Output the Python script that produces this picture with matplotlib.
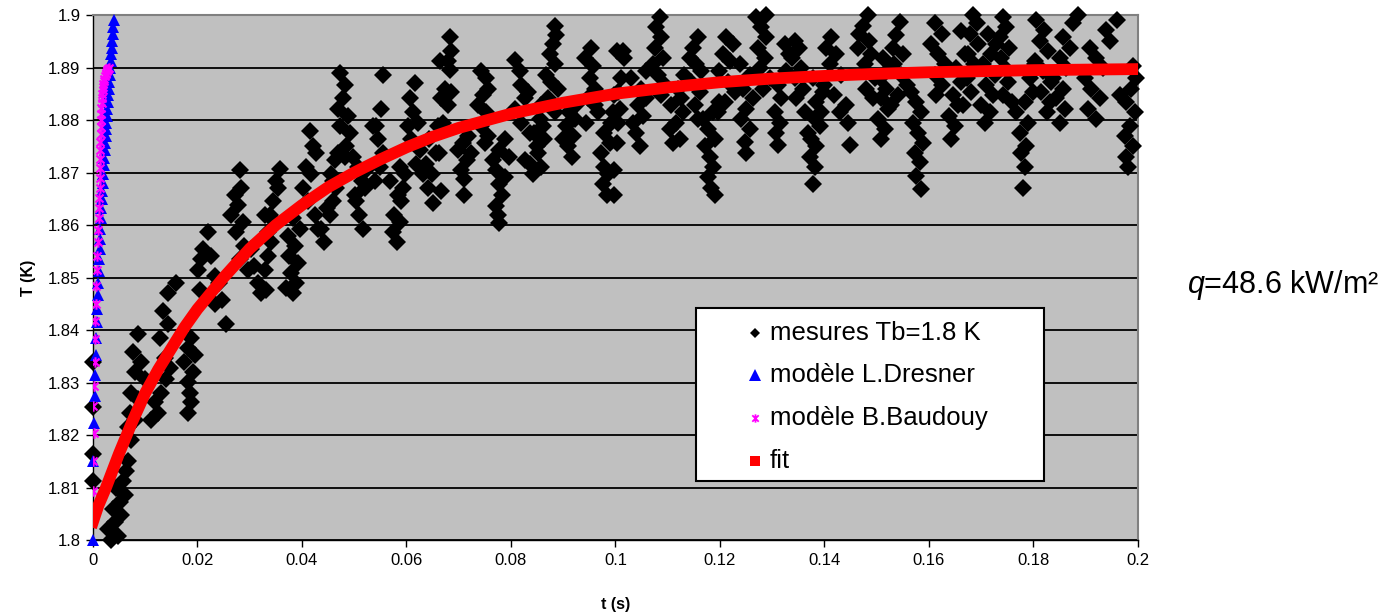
import numpy as np
import matplotlib
matplotlib.use('Agg')
import matplotlib.pyplot as plt
from matplotlib.path import Path
from matplotlib.patches import Rectangle
from matplotlib.ticker import FormatStrFormatter, MultipleLocator

plt.rcParams['font.family'] = ['Liberation Sans', 'DejaVu Sans']
plt.rcParams['mathtext.fontset'] = 'custom'
plt.rcParams['mathtext.it'] = 'Liberation Sans:italic'
plt.rcParams['mathtext.rm'] = 'Liberation Sans'

# mesures (t en ms, T en K)
meas_t_ms = [0.0, 0.0, 0.0, 0.0,
    3.5, 4.78, 2.87, 4.15, 5.42, 3.83, 5.1, 6.06, 4.47, 5.74, 6.38, 6.7,
    8.6, 7.66, 9.25, 7.97, 9.89, 7.34, 8.6, 7.02, 7.97, 6.7, 7.34,
    11.2, 12.4, 11.8, 13.1, 14.0, 14.7, 13.7, 12.8, 14.4, 13.4, 14.4, 15.9,
    18.2, 18.8, 18.5, 18.2, 19.1, 17.5, 19.5, 18.2, 18.8,
    20.1, 21.1, 22.0, 20.7, 23.3, 24.2, 22.6, 24.6, 25.5, 23.3, 20.4,
    28.1, 28.4, 27.1, 27.8, 26.5, 28.7, 27.4, 29.0, 28.1, 29.7,
    30.3, 30.9, 31.6, 32.2, 32.9, 33.5,
    33.2, 32.9, 33.5, 34.1, 34.8, 34.5, 35.4, 35.7, 35.1, 33.8,
    38.3, 37.0, 38.9, 37.9, 39.2, 37.6, 38.6, 37.3, 39.6, 38.3,
    41.5, 42.1, 42.7, 40.8, 41.8, 40.2, 41.2, 42.4, 43.1,
    44.3, 43.7, 45.3, 44.7, 45.9, 46.6, 45.6, 46.3, 46.9, 45.9,
    47.2, 48.2, 47.9, 46.9, 48.8, 47.2, 49.1, 48.5, 49.8, 48.2,
    51.7, 51.0, 50.4, 52.0, 51.4, 52.3, 50.7, 50.1,
    55.5, 55.2, 54.2, 53.6, 54.6, 55.5, 54.9, 53.9,
    58.1, 57.4, 58.7, 57.7, 59.0, 58.4, 56.8, 59.3, 59.7, 58.7,
    61.6, 60.6, 61.3, 60.3, 62.2, 60.9, 62.5, 61.9, 63.2,
    65.1, 64.1, 64.8, 63.8, 65.7, 64.4, 66.0, 66.7, 66.4,
    68.3, 68.6, 67.9, 68.3, 67.3, 68.6, 67.9, 67.0, 66.3, 66.7,
    71.1, 71.1, 70.5, 71.5, 69.9, 72.4, 70.8, 71.8,
    74.3, 75.3, 75.6, 74.6, 73.7, 75.3, 74.3, 75.6, 75.0,
    77.8, 77.5, 77.2, 78.2, 77.8, 78.8, 77.2, 76.6, 77.8, 78.8, 79.7,
    80.7, 81.7, 82.0, 82.6, 80.7, 83.3, 82.0, 83.6, 82.6,
    84.2, 83.6, 85.2, 85.8, 84.9, 86.4, 84.5, 86.1, 85.5,
    88.4, 88.7, 88.0, 87.4, 88.4, 86.8, 87.7, 89.0, 87.1, 88.4, 85.8,
    91.6, 90.9, 89.9, 91.9, 90.6, 92.2, 91.2, 92.5,
    95.4, 94.1, 95.7, 95.1, 96.0, 94.7, 96.7, 94.4, 96.0,
    98.3, 97.6, 98.6, 97.9, 97.3, 98.9, 97.9, 99.2, 99.5, 99.8, 100.2,
    99.8, 99.8, 100.2, 100.5, 100.8, 100.5, 101.1, 101.7, 101.4,
    104.6, 104.0, 103.4, 105.3, 104.3, 105.9, 104.9, 103.0, 105.9,
    108.5, 107.8, 108.8, 107.5, 109.1, 107.2, 108.1, 109.4, 108.8,
    111.0, 112.3, 110.4, 111.6, 112.9, 110.7, 112.6, 112.0, 113.2,
    115.8, 114.8, 114.2, 115.5, 116.4, 114.5, 116.1, 115.2, 115.8,
    119.0, 118.3, 117.7, 118.7, 118.0, 117.1, 119.0, 117.7, 116.7, 118.7, 119.9,
    121.2, 122.5, 120.6, 121.9, 119.9, 121.5, 122.8, 120.9, 119.6,
    125.0, 124.7, 125.7, 124.1, 125.0, 126.3, 124.4, 125.7, 123.8,
    128.9, 126.9, 127.9, 128.9, 127.3, 128.6, 127.6, 129.5, 128.2,
    131.1, 130.8, 131.4, 130.5, 131.7, 131.1, 132.7, 133.3, 132.4,
    134.3, 135.2, 133.7, 135.6, 134.3, 135.9, 134.6, 136.2,
    137.8, 138.1, 137.2, 138.4, 137.5, 136.8, 139.1, 138.1, 139.4, 138.4, 139.7, 137.8,
    141.3, 140.3, 142.3, 141.0, 143.2, 140.0, 141.9, 144.2, 142.9, 144.5, 144.8,
    148.3, 147.4, 146.7, 148.6, 146.4, 149.0, 147.7, 149.6, 148.0, 149.3,
    150.9, 151.5, 150.2, 152.2, 150.9, 151.8, 150.6, 152.5, 151.2,
    154.4, 153.7, 153.1, 155.0, 153.4, 154.7, 155.7, 154.1, 152.8,
    158.5, 157.6, 158.2, 157.3, 158.9, 157.9, 156.9, 158.5, 157.6, 156.6,
    161.1, 162.4, 160.4, 161.7, 163.0, 161.1, 162.4, 161.4,
    164.3, 164.9, 163.9, 165.6, 164.6, 166.2, 165.2, 166.8, 166.2,
    168.4, 169.1, 167.8, 169.4, 167.5, 168.7, 167.2, 168.1, 166.5,
    170.7, 171.6, 170.0, 172.3, 171.0, 172.6, 170.3, 171.9, 172.9, 171.3,
    174.2, 174.8, 173.5, 175.4, 173.8, 174.5, 175.1, 174.2, 175.8,
    178.0, 178.3, 177.7, 178.6, 177.4, 178.9, 176.7, 178.3, 179.9, 179.3, 180.2,
    180.5, 182.1, 181.2, 182.8, 180.2, 181.8, 183.4, 181.5, 183.1, 182.5,
    185.0, 186.0, 184.4, 185.7, 183.7, 186.3, 185.0, 186.9, 185.7, 187.6, 188.5,
    192.0, 190.4, 192.7, 191.1, 189.8, 193.3, 192.0, 190.8, 194.6, 195.9, 193.9,
    198.1, 197.8, 199.0, 197.5, 198.4, 199.4, 197.8, 198.7, 199.7, 199.1, 196.5]

meas_T = [1.8112, 1.8164, 1.8253, 1.8340,
    1.8001, 1.8008, 1.8021, 1.8034, 1.8047, 1.8060, 1.8073, 1.8086, 1.8099, 1.8112, 1.8131, 1.8151,
    1.8392, 1.8359, 1.8340, 1.8320, 1.8307, 1.8281, 1.8268, 1.8242, 1.8229, 1.8216, 1.8190,
    1.8229, 1.8242, 1.8262, 1.8281, 1.8307, 1.8327, 1.8346, 1.8385, 1.8411, 1.8437, 1.8470, 1.8489,
    1.8242, 1.8262, 1.8281, 1.8301, 1.8320, 1.8340, 1.8353, 1.8366, 1.8385,
    1.8515, 1.8554, 1.8587, 1.8535, 1.8502, 1.8489, 1.8541, 1.8457, 1.8411, 1.8450, 1.8476,
    1.8704, 1.8671, 1.8658, 1.8639, 1.8619, 1.8606, 1.8587, 1.8561, 1.8535, 1.8515,
    1.8554, 1.8522, 1.8489, 1.8470, 1.8619, 1.8587,
    1.8476, 1.8515, 1.8541, 1.8567, 1.8606, 1.8645, 1.8671, 1.8707, 1.8684, 1.8619,
    1.8470, 1.8480, 1.8489, 1.8509, 1.8528, 1.8541, 1.8561, 1.8580, 1.8593, 1.8613,
    1.8779, 1.8750, 1.8737, 1.8710, 1.8697, 1.8671, 1.8645, 1.8619, 1.8593,
    1.8567, 1.8593, 1.8619, 1.8632, 1.8645, 1.8671, 1.8697, 1.8723, 1.8737, 1.8684,
    1.8889, 1.8867, 1.8841, 1.8821, 1.8808, 1.8789, 1.8776, 1.8750, 1.8730, 1.8730,
    1.8593, 1.8619, 1.8645, 1.8671, 1.8684, 1.8704, 1.8710, 1.8658,
    1.8886, 1.8821, 1.8789, 1.8789, 1.8763, 1.8737, 1.8710, 1.8684,
    1.8567, 1.8587, 1.8606, 1.8619, 1.8645, 1.8658, 1.8684, 1.8671, 1.8697, 1.8710,
    1.8870, 1.8841, 1.8815, 1.8789, 1.8795, 1.8763, 1.8743, 1.8717, 1.8697,
    1.8642, 1.8671, 1.8697, 1.8717, 1.8737, 1.8763, 1.8789, 1.8841, 1.8912,
    1.8958, 1.8932, 1.8912, 1.8896, 1.8860, 1.8854, 1.8828, 1.8795, 1.8737, 1.8665,
    1.8658, 1.8688, 1.8704, 1.8723, 1.8743, 1.8737, 1.8756, 1.8769,
    1.8893, 1.8880, 1.8860, 1.8847, 1.8828, 1.8815, 1.8789, 1.8769, 1.8756,
    1.8603, 1.8619, 1.8636, 1.8658, 1.8678, 1.8691, 1.8704, 1.8723, 1.8743, 1.8763, 1.8730,
    1.8915, 1.8893, 1.8867, 1.8841, 1.8821, 1.8854, 1.8795, 1.8776, 1.8723,
    1.8697, 1.8717, 1.8737, 1.8710, 1.8750, 1.8763, 1.8776, 1.8789, 1.8802,
    1.8980, 1.8961, 1.8945, 1.8925, 1.8906, 1.8886, 1.8873, 1.8860, 1.8841, 1.8815, 1.8828,
    1.8730, 1.8750, 1.8763, 1.8769, 1.8789, 1.8802, 1.8815, 1.8828,
    1.8938, 1.8919, 1.8902, 1.8880, 1.8860, 1.8841, 1.8815, 1.8795, 1.8828,
    1.8658, 1.8678, 1.8697, 1.8710, 1.8737, 1.8756, 1.8776, 1.8795, 1.8815, 1.8847, 1.8932,
    1.8658, 1.8704, 1.8756, 1.8795, 1.8821, 1.8854, 1.8880, 1.8919, 1.8932,
    1.8750, 1.8776, 1.8795, 1.8808, 1.8828, 1.8841, 1.8860, 1.8880, 1.8893,
    1.8997, 1.8977, 1.8958, 1.8938, 1.8919, 1.8906, 1.8886, 1.8867, 1.8847,
    1.8756, 1.8763, 1.8782, 1.8795, 1.8815, 1.8828, 1.8841, 1.8860, 1.8886,
    1.8958, 1.8938, 1.8919, 1.8906, 1.8893, 1.8873, 1.8854, 1.8828, 1.8802,
    1.8658, 1.8671, 1.8691, 1.8710, 1.8730, 1.8750, 1.8763, 1.8782, 1.8802, 1.8815, 1.8834,
    1.8958, 1.8945, 1.8925, 1.8912, 1.8893, 1.8873, 1.8854, 1.8834, 1.8815,
    1.8737, 1.8759, 1.8782, 1.8802, 1.8821, 1.8841, 1.8860, 1.8886, 1.8906,
    1.9000, 1.8997, 1.8977, 1.8958, 1.8938, 1.8919, 1.8899, 1.8880, 1.8860,
    1.8753, 1.8776, 1.8795, 1.8815, 1.8841, 1.8867, 1.8893, 1.8925, 1.8945,
    1.8951, 1.8938, 1.8919, 1.8899, 1.8880, 1.8860, 1.8841, 1.8815,
    1.8678, 1.8710, 1.8730, 1.8750, 1.8763, 1.8776, 1.8789, 1.8802, 1.8815, 1.8834, 1.8854, 1.8880,
    1.8958, 1.8938, 1.8925, 1.8906, 1.8886, 1.8867, 1.8847, 1.8828, 1.8815, 1.8795, 1.8753,
    1.9000, 1.8980, 1.8964, 1.8951, 1.8938, 1.8925, 1.8906, 1.8880, 1.8860, 1.8841,
    1.8763, 1.8782, 1.8802, 1.8821, 1.8841, 1.8860, 1.8880, 1.8899, 1.8919,
    1.8987, 1.8961, 1.8938, 1.8925, 1.8906, 1.8886, 1.8867, 1.8847, 1.8828,
    1.8668, 1.8694, 1.8720, 1.8737, 1.8756, 1.8776, 1.8795, 1.8815, 1.8834, 1.8854,
    1.8984, 1.8964, 1.8945, 1.8925, 1.8906, 1.8886, 1.8867, 1.8847,
    1.8763, 1.8789, 1.8808, 1.8828, 1.8847, 1.8873, 1.8899, 1.8925, 1.8970,
    1.9000, 1.8984, 1.8964, 1.8945, 1.8925, 1.8906, 1.8880, 1.8854, 1.8828,
    1.8795, 1.8815, 1.8828, 1.8847, 1.8867, 1.8886, 1.8906, 1.8925, 1.8945, 1.8964,
    1.8997, 1.8977, 1.8958, 1.8938, 1.8919, 1.8899, 1.8873, 1.8847, 1.8834,
    1.8671, 1.8710, 1.8737, 1.8750, 1.8776, 1.8795, 1.8815, 1.8834, 1.8854, 1.8880, 1.8906,
    1.8990, 1.8971, 1.8951, 1.8932, 1.8912, 1.8893, 1.8873, 1.8854, 1.8834, 1.8815,
    1.8795, 1.8821, 1.8841, 1.8860, 1.8880, 1.8899, 1.8919, 1.8938, 1.8958, 1.8984, 1.9000,
    1.8802, 1.8821, 1.8841, 1.8860, 1.8880, 1.8899, 1.8919, 1.8938, 1.8951, 1.8990, 1.8971,
    1.8710, 1.8730, 1.8750, 1.8769, 1.8789, 1.8815, 1.8834, 1.8860, 1.8880, 1.8902, 1.8847]

# modele L.Dresner
dres_t_ms = [0.0, 0.093, 0.203, 0.309, 0.402, 0.509, 0.605, 0.703, 0.794, 0.890, 0.976,
             1.070, 1.168, 1.253, 1.345, 1.435, 1.534, 1.630, 1.719, 1.805, 1.893, 1.983,
             2.080, 2.157, 2.253, 2.332, 2.414, 2.496, 2.579, 2.665, 2.751, 2.838, 2.928,
             3.018, 3.110, 3.204, 3.298, 3.394, 3.492, 3.591, 3.691, 3.792, 3.896, 4.0]
dres_T = [1.8000, 1.8151, 1.8223, 1.8275, 1.8314, 1.8353, 1.8385, 1.8415, 1.8441, 1.8467, 1.8489,
          1.8512, 1.8535, 1.8554, 1.8574, 1.8593, 1.8613, 1.8632, 1.8649, 1.8665, 1.8681, 1.8697,
          1.8714, 1.8727, 1.8743, 1.8756, 1.8769, 1.8782, 1.8795, 1.8808, 1.8821, 1.8834, 1.8847,
          1.8860, 1.8873, 1.8886, 1.8899, 1.8912, 1.8925, 1.8938, 1.8951, 1.8964, 1.8977, 1.8990]

# modele B.Baudouy
baud_t_ms = [0.0, 0.0, 0.19, 0.1, 0.2, 0.32, 0.45, 0.45, 0.64, 0.64, 0.83, 0.83, 0.96, 0.96,
             1.08, 1.2, 1.25, 1.28, 1.3, 1.33, 1.36, 1.39, 1.42, 1.45, 1.48, 1.52, 1.56, 1.6,
             1.65, 1.7, 1.76, 1.83, 1.9, 2.0, 2.1, 2.2, 2.3, 2.4, 2.5, 2.6, 2.7, 2.8, 2.9, 3.0]
baud_T = [1.8093, 1.8151, 1.8203, 1.8255, 1.8294, 1.8340, 1.8382, 1.8418, 1.8450, 1.8483,
          1.8515, 1.8541, 1.8567, 1.8590, 1.8613, 1.8632, 1.8652, 1.8671, 1.8690, 1.8708,
          1.8725, 1.8742, 1.8758, 1.8773, 1.8787, 1.8800, 1.8812, 1.8823, 1.8833, 1.8842,
          1.8850, 1.8857, 1.8863, 1.8869, 1.8874, 1.8879, 1.8883, 1.8887, 1.8890, 1.8893,
          1.8895, 1.8897, 1.8898, 1.8899]

# fit
fit_t = [0, 0.001, 0.0025, 0.005, 0.0075, 0.01, 0.0125, 0.015, 0.0175, 0.02, 0.025, 0.03,
         0.035, 0.04, 0.045, 0.05, 0.055, 0.06, 0.065, 0.07, 0.08, 0.09, 0.1, 0.11, 0.12,
         0.13, 0.14, 0.15, 0.16, 0.17, 0.18, 0.19, 0.2]
fit_T = [1.8035, 1.8065, 1.8100, 1.8165, 1.8225, 1.8280, 1.8325, 1.8365, 1.8405, 1.8440,
         1.8500, 1.8555, 1.8600, 1.8638, 1.8672, 1.8700, 1.8725, 1.8748, 1.8768, 1.8785,
         1.8812, 1.8833, 1.8850, 1.8862, 1.8872, 1.8879, 1.8884, 1.8888, 1.8891, 1.8893,
         1.8895, 1.8896, 1.8897]

labels = ['mesures Tb=1.8 K', 'modèle L.Dresner', 'modèle B.Baudouy', 'fit']

# marqueur etoile (x + trait vertical)
star = Path([(-1, -1), (1, 1), (-1, 1), (1, -1), (0, -1.3), (0, 1.3)],
            [Path.MOVETO, Path.LINETO, Path.MOVETO, Path.LINETO, Path.MOVETO, Path.LINETO])

fig = plt.figure(figsize=(13.98, 6.13), dpi=100)
ax = fig.add_axes([0.0665, 0.119, 0.7475, 0.8565])
ax.set_facecolor('#C0C0C0')

ax.plot(np.array(meas_t_ms) * 1e-3, meas_T, 'D', color='black', ms=9.5, mew=0, clip_on=False, zorder=3)
ax.plot(np.array(dres_t_ms) * 1e-3, dres_T, '^', color='#0000FF', ms=8.5, mew=0, clip_on=False, zorder=4)
ax.plot(np.array(baud_t_ms) * 1e-3, baud_T, ls='none', marker=star, color='#FF00FF', ms=7.5,
        mew=1.5, zorder=5)
ax.plot(fit_t, fit_T, '-', color='#FF0000', lw=8.5, solid_capstyle='projecting', zorder=6)

ax.set_xlim(0, 0.2)
ax.set_ylim(1.8, 1.9)
ax.xaxis.set_major_locator(MultipleLocator(0.02))
ax.yaxis.set_major_locator(MultipleLocator(0.01))
ax.xaxis.set_major_formatter(FormatStrFormatter('%g'))
ax.yaxis.set_major_formatter(FormatStrFormatter('%g'))
ax.yaxis.grid(True, color='black', lw=1.3)
ax.set_axisbelow(True)
ax.tick_params(labelsize=12, length=5, width=1, direction='out', pad=4)

for side in ['top', 'right']:
    ax.spines[side].set_color('#808080')
    ax.spines[side].set_linewidth(1.5)
for side in ['left', 'bottom']:
    ax.spines[side].set_color('black')
    ax.spines[side].set_linewidth(1)

ax.set_xlabel('t (s)', fontsize=11.5, fontweight='bold', labelpad=21)
ax.set_ylabel('T (K)', fontsize=11.5, fontweight='bold', labelpad=9)

# legende dessinee a la main
ax.add_patch(Rectangle((0.577, 0.112), 0.333, 0.330, transform=ax.transAxes,
                       facecolor='white', edgecolor='black', lw=1.5, zorder=10, clip_on=False))
row_y = [0.394, 0.314, 0.232, 0.151]
styles = [dict(marker='D', color='black', ms=5.5, mew=0),
          dict(marker='^', color='#0000FF', ms=8.5, mew=0),
          dict(marker=star, color='#FF00FF', ms=6, mew=1.3),
          dict(marker='s', color='#FF0000', ms=7.5, mew=0)]
for y, lab, st in zip(row_y, labels, styles):
    ax.plot([0.6335], [y], ls='none', transform=ax.transAxes, clip_on=False, zorder=11, **st)
    ax.text(0.6475, y, lab, transform=ax.transAxes, fontsize=18.5, va='center', ha='left', zorder=11)

fig.text(0.849, 0.535, r'$q$=48.6 kW/m²', fontsize=22, ha='left', va='center')

fig.savefig('out.png', dpi=100)
